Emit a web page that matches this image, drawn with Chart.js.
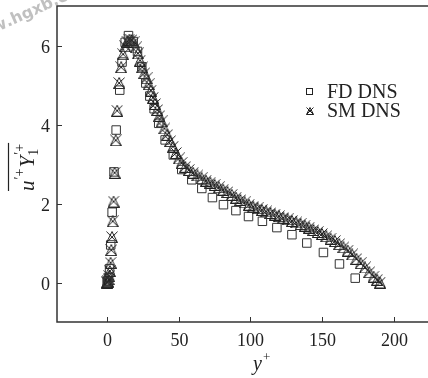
<!DOCTYPE html>
<html>
<head>
<meta charset="utf-8">
<script src="https://cdn.jsdelivr.net/npm/chart.js@4.4.1/dist/chart.umd.min.js"></script>
<style>
html, body { margin: 0; padding: 0; background: #fff; overflow: hidden; }
canvas { display: block; }
</style>
</head>
<body>
<canvas id="c" width="428" height="378"></canvas>
<script>
// FD DNS (squares)
const fdYplus = [0, 0.4, 1.0, 1.7, 2.5, 3.5, 4.8, 6.3, 8.8, 10.4, 12.6, 14.9, 18.2, 21.2, 24.2, 27.0, 29.8, 32.8, 36.0, 40.5,
  46.2, 52.1, 59.1, 66.1, 73.5, 81.2, 89.9, 98.7, 108.4, 118.5, 129.0, 139.4, 151.0, 162.2, 173.2];
const fdFlux = [0, 0.03, 0.12, 0.35, 0.95, 1.78, 2.8, 3.86, 4.87, 5.58, 6.08, 6.25, 6.1, 5.85, 5.46, 5.05, 4.72, 4.4, 4.03, 3.61,
  3.23, 2.86, 2.6, 2.38, 2.15, 1.97, 1.82, 1.67, 1.55, 1.39, 1.21, 1.0, 0.76, 0.47, 0.11];

// SM DNS (crossed triangles)
const smYplus = [0, 0.1, 0.3, 0.6, 1.0, 1.4, 1.9, 2.4, 2.9, 3.4, 3.9, 4.5, 5.2, 6.0, 7.0, 8.4, 9.8, 11.2, 12.6, 14.0,
  15.5, 17, 18.5, 20, 21.5, 23, 24.5, 26, 27.5, 29, 30.5, 32, 33.5, 35, 36.5, 38, 40, 42, 44, 46,
  48, 50, 52, 54.5, 57, 60, 63, 66, 69, 72, 75, 78, 81, 84, 87, 90, 93, 96, 99, 102,
  105, 108, 111, 114, 117, 120, 123, 126, 129, 132, 135, 138, 141, 144, 147, 150, 153, 156, 159, 162,
  165, 168, 171, 174, 177, 180, 183, 186, 188.5, 190.5];
const smFlux = [0, 0.003, 0.01, 0.03, 0.08, 0.16, 0.29, 0.5, 0.82, 1.15, 1.55, 2.05, 2.78, 3.6, 4.35, 5.05, 5.45, 5.78, 5.98, 6.1,
  6.15, 6.14, 6.08, 5.95, 5.8, 5.62, 5.45, 5.3, 5.17, 5.02, 4.86, 4.68, 4.52, 4.37, 4.22, 4.08, 3.9, 3.74, 3.58, 3.44,
  3.28, 3.14, 3.03, 2.93, 2.85, 2.78, 2.71, 2.64, 2.58, 2.53, 2.47, 2.41, 2.35, 2.29, 2.22, 2.15, 2.09, 2.03, 1.97, 1.92,
  1.88, 1.84, 1.8, 1.76, 1.72, 1.68, 1.64, 1.6, 1.56, 1.52, 1.48, 1.44, 1.39, 1.33, 1.28, 1.23, 1.17, 1.11, 1.05, 0.97,
  0.89, 0.81, 0.71, 0.6, 0.49, 0.38, 0.26, 0.15, 0.07, 0];

const xTicks = [0, 50, 100, 150, 200];
const yTicks = [0, 2, 4, 6];
const seriesLabels = ['FD DNS', 'SM DNS'];

const SERIF = '"Liberation Serif", "Times New Roman", serif';
const INK = '#222';

// triangle with an X through it
function crossTri(size) {
  const c = document.createElement('canvas');
  c.width = c.height = size;
  const g = c.getContext('2d');
  g.strokeStyle = INK;
  g.lineWidth = 1;
  const a = 0.5, b = size - 0.5;
  g.beginPath();
  g.moveTo(size / 2, a); g.lineTo(b, b); g.lineTo(a, b); g.closePath();
  g.moveTo(a, a); g.lineTo(b, b);
  g.moveTo(b, a); g.lineTo(a, b);
  g.stroke();
  return c;
}
const triMark = crossTri(12);
const triLegend = crossTri(8);

const frame = {
  id: 'frame',
  afterDraw(chart) {
    const { ctx, chartArea: a, scales: { x, y } } = chart;
    ctx.save();
    ctx.strokeStyle = '#333';
    ctx.lineWidth = 1.5;
    ctx.beginPath();
    ctx.moveTo(chart.width, a.top); ctx.lineTo(a.left, a.top);
    ctx.lineTo(a.left, a.bottom); ctx.lineTo(chart.width, a.bottom);
    ctx.stroke();

    // inward ticks + labels
    ctx.lineWidth = 1;
    ctx.fillStyle = INK;
    ctx.font = '18px ' + SERIF;
    ctx.beginPath();
    ctx.textAlign = 'center';
    xTicks.forEach(v => {
      const px = Math.round(x.getPixelForValue(v)) + 0.5;
      ctx.moveTo(px, a.bottom); ctx.lineTo(px, a.bottom - 5);
      ctx.fillText(String(v), px, a.bottom + 24);
    });
    ctx.textAlign = 'right';
    yTicks.forEach(v => {
      const py = Math.round(y.getPixelForValue(v)) + 0.5;
      ctx.moveTo(a.left, py); ctx.lineTo(a.left + 5, py);
      ctx.fillText(String(v), a.left - 7, py + 6);
    });
    ctx.stroke();
    ctx.textAlign = 'left';

    // legend
    ctx.strokeStyle = INK;
    ctx.font = '20px ' + SERIF;
    ctx.strokeRect(306.5, 88.5, 6, 6);
    ctx.fillText(seriesLabels[0], 327, 97.5);
    ctx.drawImage(triLegend, 306, 107);
    ctx.fillText(seriesLabels[1], 327, 116.5);

    // x title: y+
    ctx.font = 'italic 20px ' + SERIF;
    ctx.fillText('y', 253, 370);
    const wy = ctx.measureText('y').width;
    ctx.font = '13px ' + SERIF;
    ctx.fillText('+', 253 + wy + 1, 361);

    // y title: overline(u'+ Y'1+)
    ctx.translate(34, 191);
    ctx.rotate(-Math.PI / 2);
    const big = 'italic 21px ' + SERIF, small = '14px ' + SERIF;
    let p = 0;
    ctx.font = big; ctx.fillText('u', p, 0); p += ctx.measureText('u').width;
    ctx.font = small; ctx.fillText('\u2032+', p + 1, -10); p += ctx.measureText('\u2032+').width + 2;
    ctx.font = big; ctx.fillText('Y', p, 0); p += ctx.measureText('Y').width;
    ctx.font = small; ctx.fillText('\u2032+', p + 1, -10); ctx.fillText('1', p, 4);
    p += ctx.measureText('\u2032+').width + 2;
    ctx.lineWidth = 1.2;
    ctx.beginPath(); ctx.moveTo(0, -25.5); ctx.lineTo(p, -25.5); ctx.stroke();
    ctx.restore();

    // site watermark in the corner
    ctx.save();
    ctx.translate(8, 27);
    ctx.rotate(-0.42);
    ctx.font = 'bold 16px "DejaVu Sans", sans-serif';
    ctx.fillStyle = 'rgba(140,140,140,0.55)';
    const ww = ctx.measureText('www').width;
    ctx.fillText('www', -ww, 0);
    ctx.fillText('.hgxb.com.cn', 0, 0);
    ctx.restore();
  }
};

new Chart(document.getElementById('c'), {
  type: 'scatter',
  data: {
    datasets: [
      {
        label: seriesLabels[0],
        data: fdYplus.map((v, i) => ({ x: v, y: fdFlux[i] })),
        pointStyle: 'rect',
        pointRadius: 6,
        borderColor: '#333',
        borderWidth: 1,
        backgroundColor: 'rgba(0,0,0,0)'
      },
      {
        label: seriesLabels[1],
        data: smYplus.map((v, i) => ({ x: v, y: smFlux[i] })),
        pointStyle: triMark,
        pointRadius: 6
      }
    ]
  },
  options: {
    responsive: false,
    animation: false,
    devicePixelRatio: 1,
    layout: { autoPadding: false, padding: { top: 6, right: 0, bottom: 0, left: 0 } },
    plugins: { legend: { display: false }, tooltip: { enabled: false } },
    scales: {
      x: {
        type: 'linear', min: -35, max: 224,
        afterBuildTicks: s => { s.ticks = xTicks.map(v => ({ value: v })); },
        afterFit: s => { s.height = 56; },
        ticks: { display: false },
        grid: { display: false, drawTicks: false },
        border: { display: false }
      },
      y: {
        type: 'linear', min: -1, max: 7,
        afterBuildTicks: s => { s.ticks = yTicks.map(v => ({ value: v })); },
        afterFit: s => { s.width = 57; },
        ticks: { display: false },
        grid: { display: false, drawTicks: false },
        border: { display: false }
      }
    }
  },
  plugins: [frame]
});
</script>
</body>
</html>
